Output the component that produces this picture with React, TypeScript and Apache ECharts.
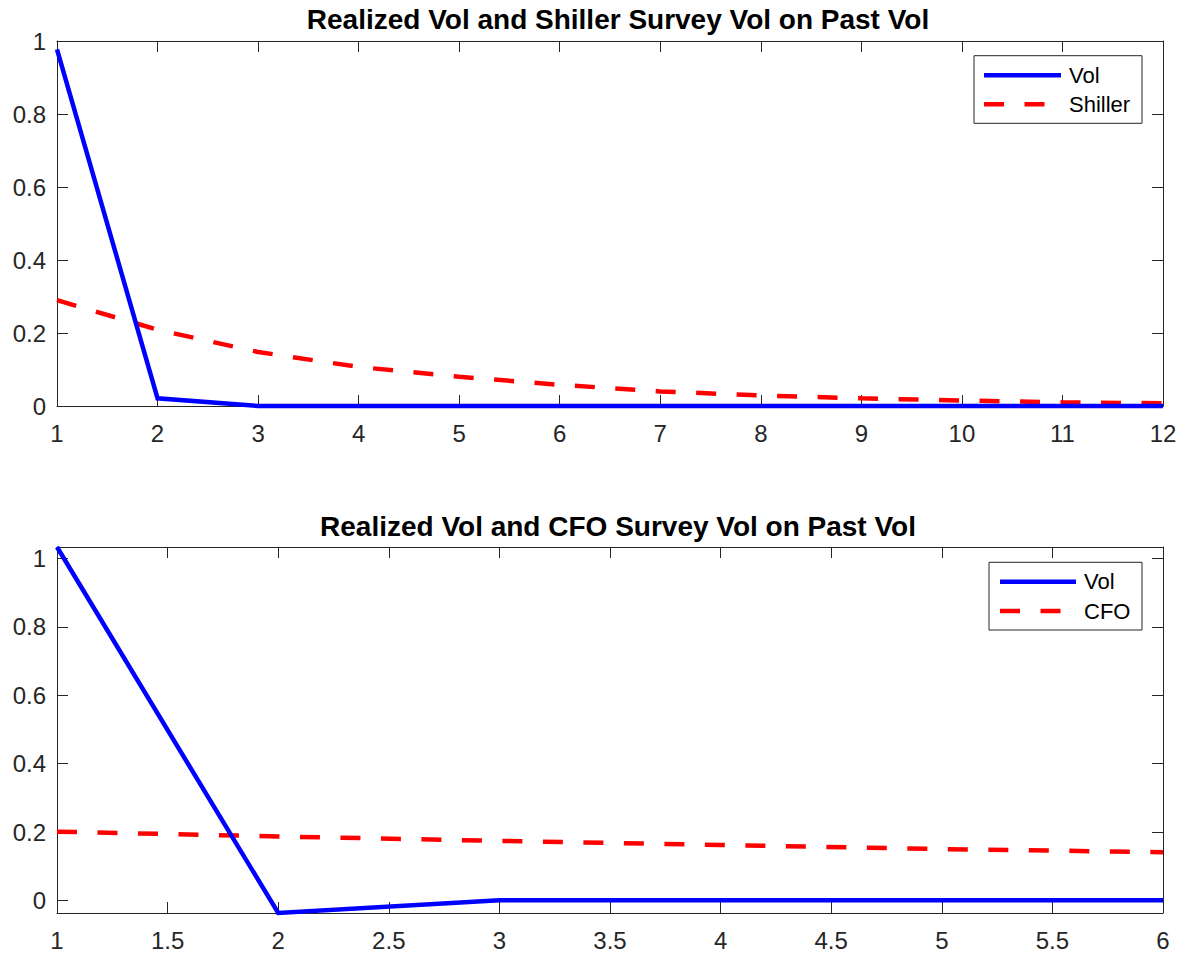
import React, { useEffect, useRef } from "react";
import * as echarts from "echarts";

// ---- data ----
const horizonsTop = [1, 2, 3, 4, 5, 6, 7, 8, 9, 10, 11, 12];
const volTop = [0.977, 0.021, 0.0, 0.0, 0.0, 0.0, 0.0, 0.0, 0.0, 0.0, 0.0, 0.0];
const shiller = [0.29, 0.209, 0.148, 0.107, 0.08, 0.058, 0.04, 0.029, 0.021, 0.015, 0.01, 0.0074];

const horizonsBottom = [1, 2, 3, 4, 5, 6];
const volBottom = [1.034, -0.037, 0.0, 0.0, 0.0, 0.0];
const cfo = [0.201, 0.187, 0.174, 0.162, 0.15, 0.141];

const titleTop = "Realized Vol and Shiller Survey Vol on Past Vol";
const titleBottom = "Realized Vol and CFO Survey Vol on Past Vol";
const yTicks = [0, 0.2, 0.4, 0.6, 0.8, 1];

const FONT = "'Liberation Sans', Arial, Helvetica, sans-serif";
const AX = "#262626";

function pairs(xs: number[], ys: number[]) {
  return xs.map((x, i) => [x, ys[i]]);
}

export default function App() {
  const ref = useRef<HTMLDivElement>(null);
  useEffect(() => {
    if (!ref.current) return;
    const chart = echarts.init(ref.current, null, { renderer: "svg" });

    const axisCommon = {
      axisLine: { show: true, onZero: false, lineStyle: { color: AX, width: 1 } },
      axisTick: { show: true, inside: true, length: 11, lineStyle: { color: AX, width: 1 } },
      splitLine: { show: false },
    };
    const labelStyle = { color: AX, fontSize: 24, fontFamily: FONT };

    const grids = [
      { left: 57, top: 41, width: 1106, height: 365 },
      { left: 57, top: 547, width: 1106, height: 366 },
    ];

    const xAxes: any[] = [];
    const yAxes: any[] = [];
    [
      { min: 1, max: 12, interval: 1 },
      { min: 1, max: 6, interval: 0.5 },
    ].forEach((cfg, g) => {
      xAxes.push({
        type: "value", gridIndex: g, position: "bottom", min: cfg.min, max: cfg.max, interval: cfg.interval,
        ...axisCommon,
        axisLabel: { ...labelStyle, margin: 15, showMaxLabel: true, showMinLabel: true },
      });
      xAxes.push({
        type: "value", gridIndex: g, position: "top", min: cfg.min, max: cfg.max, interval: cfg.interval,
        ...axisCommon, axisLabel: { show: false },
      });
    });
    [
      { min: 0, max: 1 },
      { min: -0.037, max: 1.034 },
    ].forEach((cfg, g) => {
      yAxes.push({
        type: "value", gridIndex: g, position: "left", min: cfg.min, max: cfg.max,
        ...axisCommon,
        axisTick: { ...axisCommon.axisTick, customValues: yTicks },
        axisLabel: { ...labelStyle, margin: 11, customValues: yTicks, formatter: (v: number) => String(+v.toFixed(2)) },
      });
      yAxes.push({
        type: "value", gridIndex: g, position: "right", min: cfg.min, max: cfg.max,
        ...axisCommon,
        axisTick: { ...axisCommon.axisTick, customValues: yTicks },
        axisLabel: { show: false, customValues: yTicks },
      });
    });

    const solid = (name: string, data: number[][], xi: number, yi: number) => ({
      type: "line", name, data, xAxisIndex: xi, yAxisIndex: yi, symbol: "none", clip: false,
      lineStyle: { color: "#0000ff", width: 4.5, cap: "butt", join: "miter" },
      z: 3,
    });
    const dashed = (name: string, data: number[][], xi: number, yi: number) => ({
      type: "line", name, data, xAxisIndex: xi, yAxisIndex: yi, symbol: "none", clip: false,
      lineStyle: { color: "#ff0000", width: 4.5, type: [20, 20.5], cap: "butt" },
      z: 2,
    });

    const legend = (x0: number, y0: number, x1: number, y1: number, lx0: number, lx1: number, yA: number, yB: number, tx: number, labA: string, labB: string) => ({
      type: "group",
      children: [
        { type: "rect", shape: { x: x0, y: y0, width: x1 - x0, height: y1 - y0 }, style: { fill: "#fff", stroke: AX, lineWidth: 1 }, z: 10 },
        { type: "line", shape: { x1: lx0, y1: yA, x2: lx1, y2: yA }, style: { stroke: "#0000ff", lineWidth: 4.5 }, z: 11 },
        { type: "line", shape: { x1: lx0, y1: yB, x2: lx1, y2: yB }, style: { stroke: "#ff0000", lineWidth: 4.5, lineDash: [20, 20.5] }, z: 11 },
        { type: "text", x: tx, y: yA, style: { text: labA, fill: "#000", fontSize: 22, fontFamily: FONT, verticalAlign: "middle", align: "left" }, z: 11 },
        { type: "text", x: tx, y: yB, style: { text: labB, fill: "#000", fontSize: 22, fontFamily: FONT, verticalAlign: "middle", align: "left" }, z: 11 },
      ],
    });

    chart.setOption({
      animation: false,
      backgroundColor: "#fff",
      title: [
        { text: titleTop, left: 613, top: 14, textAlign: "center", textVerticalAlign: "middle",
          textStyle: { fontSize: 28, fontWeight: "bold", color: "#000", fontFamily: FONT } },
        { text: titleBottom, left: 613, top: 521, textAlign: "center", textVerticalAlign: "middle",
          textStyle: { fontSize: 28, fontWeight: "bold", color: "#000", fontFamily: FONT } },
      ],
      grid: grids,
      xAxis: xAxes,
      yAxis: yAxes,
      series: [
        solid("Vol", pairs(horizonsTop, volTop), 0, 0),
        dashed("Shiller", pairs(horizonsTop, shiller), 0, 0),
        solid("Vol", pairs(horizonsBottom, volBottom), 2, 2),
        dashed("CFO", pairs(horizonsBottom, cfo), 2, 2),
      ],
      graphic: [
        legend(974, 55.7, 1142, 123.3, 984, 1061, 75.3, 104.3, 1069, "Vol", "Shiller"),
        legend(989, 562.3, 1142, 630, 1000, 1076, 581.7, 611, 1084, "Vol", "CFO"),
      ],
    });
    return () => chart.dispose();
  }, []);
  return <div ref={ref} style={{ position: "absolute", left: 0, top: 0, width: 1185, height: 956 }} />;
}
